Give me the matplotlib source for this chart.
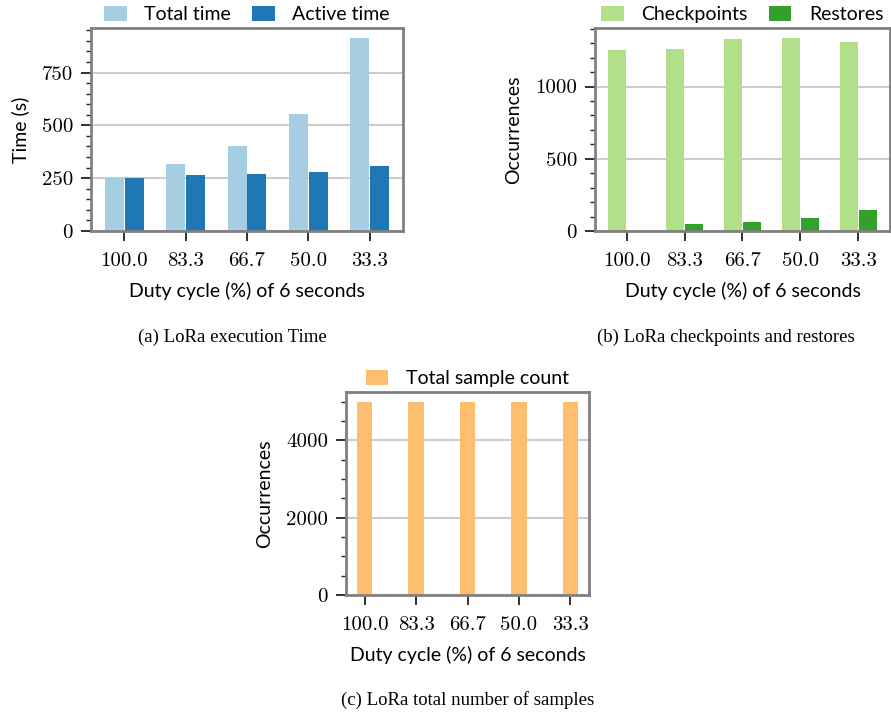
import matplotlib
matplotlib.use("Agg")
import matplotlib.pyplot as plt
from matplotlib.ticker import MultipleLocator
import numpy as np

duty = ["100.0", "83.3", "66.7", "50.0", "33.3"]
total_time = [252, 316, 401, 552, 915]
active_time = [252, 264, 269, 278, 307]
checkpoints = [1255, 1260, 1329, 1338, 1308]
restores = [0, 48, 62, 90, 145]
samples = [5000, 5000, 5000, 5000, 5000]

pal = plt.get_cmap("Paired").colors  # light/dark pairs

LABEL_FONT = "Lato"
TICK_FONT = "cmr10"
SPINE = "#808080"

plt.rcParams["font.family"] = LABEL_FONT

fig = plt.figure(figsize=(8.91, 7.13), dpi=100)
ax_a = fig.add_axes([0.1021, 0.6760, 0.3502, 0.2847])
ax_b = fig.add_axes([0.6678, 0.6760, 0.3310, 0.2847])
ax_c = fig.add_axes([0.3883, 0.1655, 0.2728, 0.2847])

x = np.arange(len(duty))
w = 0.31


def style(ax, ylabel, minor):
    ax.set_axisbelow(True)
    ax.yaxis.grid(True, color="#cccccc", lw=1.5)
    for s in ax.spines.values():
        s.set_color(SPINE)
        s.set_linewidth(2)
    ax.yaxis.set_minor_locator(MultipleLocator(minor))
    ax.tick_params(axis="both", which="major", length=7, width=1.3, color="#222222",
                   labelsize=15, pad=6)
    ax.tick_params(axis="x", which="major", pad=8.5)
    ax.tick_params(axis="y", which="minor", length=3.5, width=1.0, color="#222222")
    ax.set_xticks(x, duty)
    for lab in ax.get_xticklabels() + ax.get_yticklabels():
        lab.set_fontfamily(TICK_FONT)
    ax.set_xlabel("Duty cycle (%) of 6 seconds", fontsize=14, labelpad=8)
    ax.set_ylabel(ylabel, fontsize=14, labelpad=9)
    ax.legend(loc="lower center", bbox_to_anchor=(0.5, 0.985), ncol=2, frameon=False,
              fontsize=14, borderaxespad=0, handlelength=1.15, handleheight=0.75,
              handletextpad=0.9, columnspacing=1.1)


# (a) execution time
ax_a.bar(x - w / 2 - 0.005, total_time, w, color=pal[0], label="Total time")
ax_a.bar(x + w / 2 + 0.005, active_time, w, color=pal[1], label="Active time")
ax_a.set_yticks([0, 250, 500, 750])
style(ax_a, "Time (s)", 50)

# (b) checkpoints and restores
ax_b.bar(x - w / 2 - 0.005, checkpoints, w, color=pal[2], label="Checkpoints")
ax_b.bar(x + w / 2 + 0.005, restores, w, color=pal[3], label="Restores")
ax_b.set_yticks([0, 500, 1000])
style(ax_b, "Occurrences", 100)

# (c) total samples
ax_c.bar(x, samples, 0.3, color=pal[6], label="Total sample count")
ax_c.set_yticks([0, 2000, 4000])
style(ax_c, "Occurrences", 500)

cap = dict(fontsize=13.5, family="Liberation Serif", ha="center", va="center")
fig.text(232 / 891, 1 - 337 / 713, "(a) LoRa execution Time", **cap)
fig.text(726 / 891, 1 - 337 / 713, "(b) LoRa checkpoints and restores", **cap)
fig.text(468 / 891, 1 - 700 / 713, "(c) LoRa total number of samples", **cap)

fig.savefig("out.png", dpi=100)
